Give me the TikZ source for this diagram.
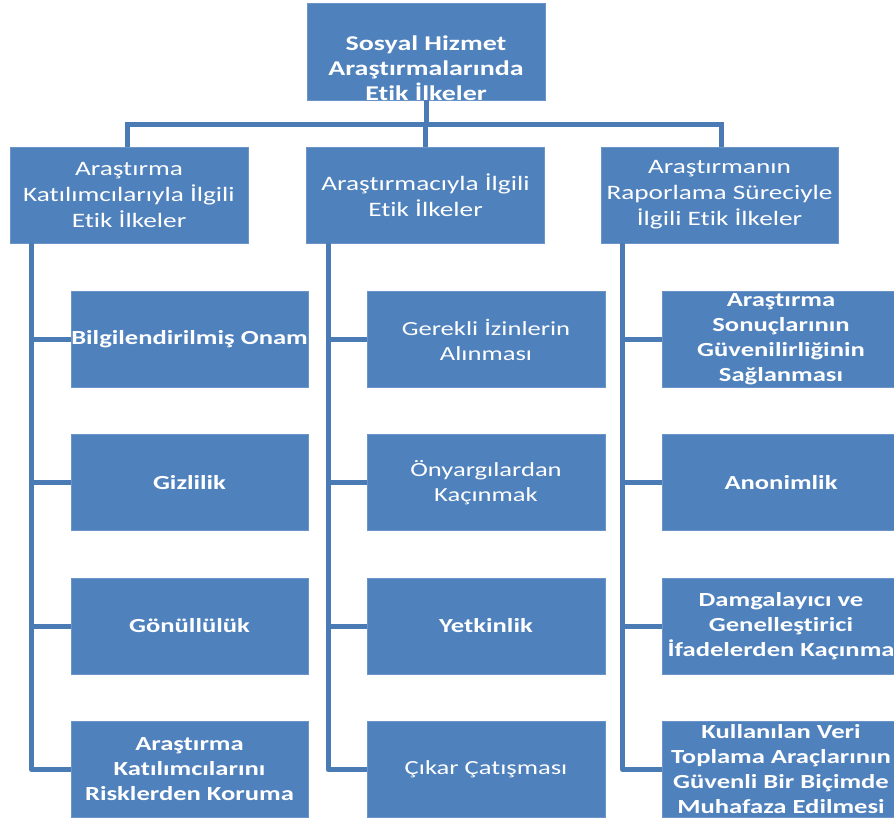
\documentclass[tikz,border=0pt]{standalone}
\usepackage{fontspec}
\setmainfont[FakeStretch=1.33, Ligatures=NoCommon]{Carlito}
\definecolor{boxfill}{HTML}{4F81BD}
\definecolor{boxborder}{HTML}{6B95C9}
\definecolor{linecol}{HTML}{4A7BB5}
\tikzset{
  box/.style={draw=boxborder, fill=boxfill, line width=0.8pt, minimum width=238pt,
    minimum height=96pt, inner sep=0pt, align=center, text=white},
  topfont/.style={font=\bfseries\fontsize{21}{25}\selectfont},
  midfont/.style={font=\fontsize{20.5}{26}\selectfont},
  bfont/.style={font=\bfseries\fontsize{20}{25}\selectfont},
  rfont/.style={font=\fontsize{20}{25}\selectfont},
  conn/.style={draw=linecol, line width=5pt},
}
\begin{document}
\begin{tikzpicture}[x=1pt,y=-1pt]
\useasboundingbox (0,0) rectangle (894,820);
\clip (0,0) rectangle (894,820);
% top
\node[box, minimum height=97pt, label={[topfont,text=white,align=center,yshift=-17pt]center:Sosyal Hizmet\\Araştırmalarında\\Etik İlkeler}] (top) at (426,51.5) {};
% level 1
\node[box, midfont] (A) at (129,195) {Araştırma\\Katılımcılarıyla İlgili\\Etik İlkeler};
\node[box, midfont] (B) at (425.5,195) {Araştırmacıyla İlgili\\Etik İlkeler};
\node[box, midfont, minimum width=237pt] (C) at (719.5,195) {Araştırmanın\\Raporlama Süreciyle\\İlgili Etik İlkeler};
% left children
\node[box, bfont, minimum width=237pt] (A1) at (189.5,339.5) {Bilgilendirilmiş Onam};
\node[box, bfont, minimum width=237pt] (A2) at (189.5,482.5) {Gizlilik};
\node[box, bfont, minimum width=237pt] (A3) at (189.5,626) {Gönüllülük};
\node[box, bfont, minimum width=237pt] (A4) at (189.5,769.5) {Araştırma\\Katılımcılarını\\Risklerden Koruma};
% middle children
\node[box, rfont] (B1) at (486,339.5) {Gerekli İzinlerin\\Alınması};
\node[box, rfont] (B2) at (486,482.5) {Önyargılardan\\Kaçınmak};
\node[box, bfont] (B3) at (486,626) {Yetkinlik};
\node[box, rfont] (B4) at (486,769.5) {Çıkar Çatışması};
% right children
\node[box, bfont] (C1) at (781,339.5) {Araştırma\\Sonuçlarının\\Güvenilirliğinin\\Sağlanması};
\node[box, bfont] (C2) at (781,482.5) {Anonimlik};
\node[box, bfont] (C3) at (781,626) {Damgalayıcı ve\\Genelleştirici\\İfadelerden Kaçınma};
\node[box, bfont] (C4) at (781,769.5) {Kullanılan Veri\\Toplama Araçlarının\\Güvenli Bir Biçimde\\Muhafaza Edilmesi};
% top connectors
\coordinate (bar) at (426,124);
\draw[conn] (top.south) -- (bar);
\draw[conn] ([xshift=-2pt]A.north) |- (bar);
\draw[conn] ([xshift=2pt]C.north) |- (bar);
\draw[conn] (B.north) -- (B.north |- bar);
% spines
\foreach \p/\c in {A/A1,A/A2,A/A3,A/A4,B/B1,B/B2,B/B3,B/B4,C/C1,C/C2,C/C3,C/C4}{
  \draw[conn, line join=round] ([xshift=22pt]\p.south west) |- (\c.west);
}
\end{tikzpicture}
\end{document}
